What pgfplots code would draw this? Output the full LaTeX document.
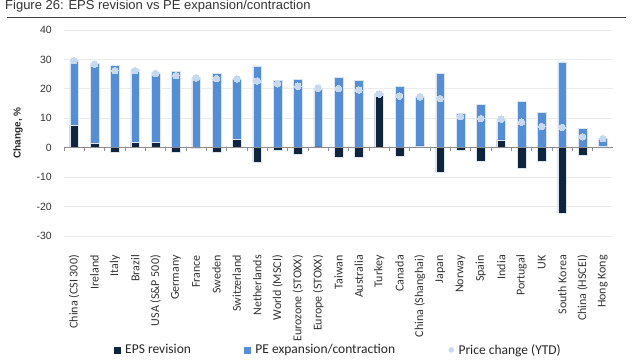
\documentclass[border=0pt]{standalone}
\usepackage{pgfplots}
\usepackage{pgfplotstable}
\pgfplotsset{compat=1.18}
\usepackage{fontspec}
\setmainfont{Liberation Sans}
\newfontfamily\calibri{Carlito}
\definecolor{epsc}{HTML}{10243E}
\definecolor{pec}{HTML}{558ED5}
\definecolor{pricec}{HTML}{C6D9F1}
\definecolor{gridc}{HTML}{EBEBEB}
\definecolor{edgec}{HTML}{DCE6F2}

\pgfplotstableread{
idx eps pe price
0 7.7 22.1 29.6
1 1.5 27.1 28.4
2 -1.5 28.0 26.2
3 1.8 24.7 26.2
4 1.8 23.6 25.2
5 -1.4 25.9 24.5
6 -0.3 24.0 23.7
7 -1.5 25.3 23.5
8 2.9 20.5 23.4
9 -5.0 27.8 22.7
10 -1.0 22.9 21.7
11 -2.1 23.3 20.9
12 0.3 20.0 20.2
13 -3.4 23.8 20.1
14 -3.4 22.9 19.6
15 18.3 0.0 18.2
16 -2.9 20.8 17.6
17 0.6 16.7 17.3
18 -8.2 25.3 16.7
19 -0.9 11.6 10.6
20 -4.7 14.7 9.9
21 2.7 7.0 9.7
22 -6.9 15.8 8.7
23 -4.7 12.0 7.2
24 -22.1 29.2 6.9
25 -2.7 6.7 3.7
26 0.4 2.7 3.1
}\datatable

\begin{document}
\begin{tikzpicture}[x=1pt,y=1pt]
\useasboundingbox (0,0) rectangle (640,360);
\node[anchor=base west, font=\fontsize{13}{15}\selectfont, text=black!80, inner sep=0pt] at (5,351) {Figure 26: EPS revision vs PE expansion/contraction};
\draw[line width=0.8pt, black!75] (7,343) -- (626,343);
\begin{axis}[
  at={(64pt,124pt)}, anchor=south west,
  scale only axis, width=549pt, height=206pt,
  xmin=-0.5, xmax=26.5, ymin=-30, ymax=40,
  ytick={-30,-20,...,40},
  xtick={0,...,26},
  xticklabels={{China (CSI 300)},{Ireland},{Italy},{Brazil},{USA (S\&P 500)},{Germany},{France},{Sweden},{Switzerland},{Netherlands},{World (MSCI)},{Eurozone (STOXX)},{Europe (STOXX)},{Taiwan},{Australia},{Turkey},{Canada},{China (Shanghai)},{Japan},{Norway},{Spain},{India},{Portugal},{UK},{South Korea},{China (HSCEI)},{Hong Kong}},
  xticklabel style={rotate=90, anchor=east, font=\calibri\fontsize{12}{14}\selectfont, text=black!80, inner sep=0pt},
  xticklabel shift=19pt,
  yticklabel style={anchor=east, font=\fontsize{10.5}{12}\selectfont, text=black!80, inner sep=0pt, xshift=-12pt},
  /pgf/number format/assume math mode=true,
  major tick length=0pt,
  axis line style={draw=none},
  ymajorgrids, grid style={gridc, line width=0.8pt},
  ylabel={Change, \%},
  every axis y label/.style={at={(axis description cs:-0.0838,0.5)}, rotate=90, anchor=center, font=\bfseries\fontsize{10}{12}\selectfont, text=black!85},
  legend columns=3,
  legend style={at={(axis description cs:0.0911,-0.553)}, anchor=west, draw=none, fill=none, inner sep=0pt,
    font=\calibri\fontsize{13.5}{15}\selectfont, text=black!85,
    nodes={inner sep=1.5pt},
    /tikz/every odd column/.append style={column sep=3pt},
    /tikz/every even column/.append style={column sep=52pt}},
  legend cell align=left,
]
\addplot[ybar, bar width=8.5pt, bar shift=0pt, fill=pec, draw=edgec, line width=0.5pt, forget plot]
  table[x=idx, y expr={max(\thisrow{eps},0)+\thisrow{pe}}] {\datatable};
\addplot[ybar, bar width=8.5pt, bar shift=0pt, fill=epsc, draw=edgec, line width=0.5pt,
  legend image code/.code={\fill[epsc] (0pt,-3pt) rectangle (6pt,3pt);}]
  table[x=idx, y=eps] {\datatable};
\addlegendentry{EPS revision}
\addlegendimage{legend image code/.code={\fill[pec] (0pt,-3pt) rectangle (6pt,3pt);}}
\addlegendentry{PE expansion/contraction}
\addplot[color=pricec, only marks, mark=*, mark size=3.3pt, mark options={fill=pricec, draw=pricec, line width=0pt},
  legend image code/.code={\fill[pricec] (3pt,0pt) circle (2.5pt);}]
  table[x=idx, y=price] {\datatable};
\addlegendentry{Price change (YTD)}
\draw[black!45, line width=0.8pt] (axis cs:-0.5,0) -- (axis cs:26.5,0);
\pgfplotsinvokeforeach{0,...,27}{
  \draw[black!45, line width=0.8pt] (axis cs:#1-0.5,0) -- ++(0pt,-3.5pt);
}
\end{axis}
\end{tikzpicture}
\end{document}
